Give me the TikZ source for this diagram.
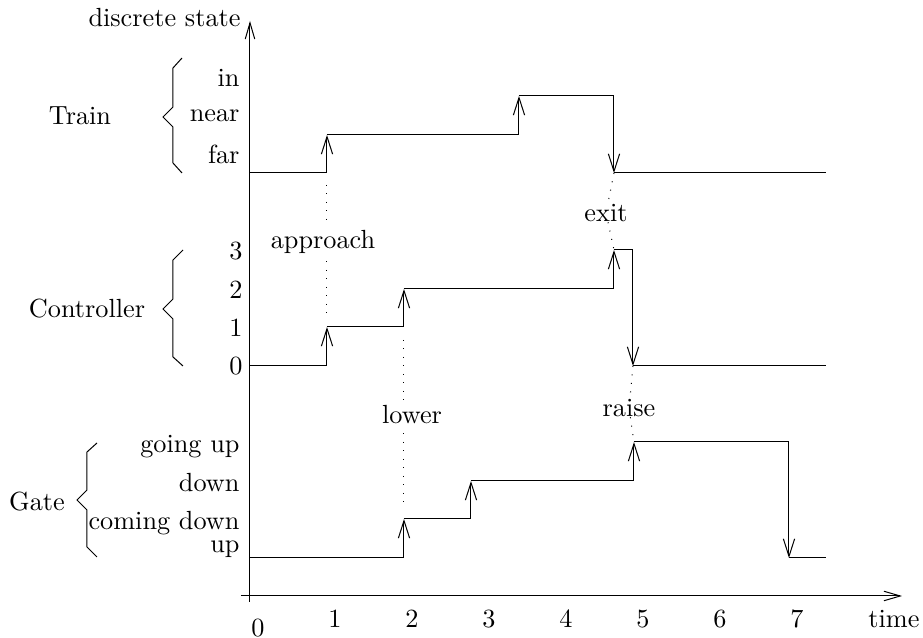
\documentclass[tikz,border=0pt]{standalone}
\usetikzlibrary{arrows.meta}
\begin{document}
\begin{tikzpicture}[x=0.4pt,y=-0.4pt,
  font=\fontsize{10.5}{12.5}\selectfont,
  trace/.style={line width=0.4pt},
  jump/.style={line width=0.4pt,-{Straight Barb[length=7pt,width=4.5pt]}},
  axis/.style={line width=0.4pt,-{Straight Barb[length=6.5pt,width=3.8pt]}},
  evt/.style={dash pattern=on 0.4pt off 3pt, line width=0.4pt},
  lbl/.style={fill=white, inner sep=2pt},
  txt/.style={inner sep=0pt},
  brace/.style={line width=0.4pt}]
\useasboundingbox (0,0) rectangle (923,638);

% axes
\coordinate (yb) at (250,602);
\coordinate (yt) at (250,21);
\coordinate (xl) at (241,596);
\coordinate (xr) at (902,596);
\draw[axis] (yb) -- (yt);
\draw[axis] (xl) -- (xr);
\node[txt,anchor=east] (ds) at (241,18) {discrete state};
\node[txt] (time) at (894,619) {time};
\node[txt] (n0) at (258,628) {0};
\node[txt] (n1) at (335,619) {1};
\node[txt] (n2) at (412,619) {2};
\node[txt] (n3) at (489,619) {3};
\node[txt] (n4) at (566,619) {4};
\node[txt] (n5) at (643,619) {5};
\node[txt] (n6) at (720,619) {6};
\node[txt] (n7) at (797,619) {7};

% group labels and braces
\node[txt] (train) at (80,116) {Train};
\node[txt] (ctrl) at (87,309) {Controller};
\node[txt] (gate) at (37,502) {Gate};
\draw[brace] (182,173) -- (173,163) -- (173,127) -- (163,117) -- (173,107) -- (173,68) -- (182,58);
\draw[brace] (183,366) -- (173,357) -- (173,319) -- (163,309) -- (173,299) -- (173,260) -- (183,250);
\draw[brace] (97,557) -- (87,547) -- (87,510) -- (77,500) -- (87,490) -- (87,452) -- (97,443);

% state labels
\node[txt,anchor=east] (sin) at (240,78) {in};
\node[txt,anchor=east] (snear) at (240,116) {near};
\node[txt,anchor=east] (sfar) at (240,154) {far};
\node[txt,anchor=east] (s3) at (243,251) {3};
\node[txt,anchor=east] (s2) at (243,290) {2};
\node[txt,anchor=east] (s1) at (243,328) {1};
\node[txt,anchor=east] (s0) at (243,366) {0};
\node[txt,anchor=east] (sgu) at (240,447) {going up};
\node[txt,anchor=east] (sd) at (240,483) {down};
\node[txt,anchor=east] (scd) at (240,523) {coming down};
\node[txt,anchor=east] (su) at (240,549) {up};

% Train trace
\coordinate (t0) at (250,173);
\coordinate (t1) at (327,173);
\coordinate (t2) at (327,135);
\coordinate (t3) at (519,135);
\coordinate (t4) at (519,96);
\coordinate (t5) at (614,96);
\coordinate (t6) at (614,173);
\coordinate (t7) at (826,173);
\draw[trace] (t0) -- (t1);
\draw[jump] (t1) -- (t2);
\draw[trace] (t2) -- (t3);
\draw[jump] (t3) -- (t4);
\draw[trace] (t4) -- (t5);
\draw[jump] (t5) -- (t6);
\draw[trace] (t6) -- (t7);

% Controller trace
\coordinate (c0) at (250,366);
\coordinate (c1) at (327,366);
\coordinate (c2) at (327,327);
\coordinate (c3) at (404,327);
\coordinate (c4) at (404,289);
\coordinate (c5) at (614,289);
\coordinate (c6) at (614,250);
\coordinate (c7) at (633,250);
\coordinate (c8) at (633,366);
\coordinate (c9) at (826,366);
\draw[trace] (c0) -- (c1);
\draw[jump] (c1) -- (c2);
\draw[trace] (c2) -- (c3);
\draw[jump] (c3) -- (c4);
\draw[trace] (c4) -- (c5);
\draw[jump] (c5) -- (c6);
\draw[trace] (c6) -- (c7);
\draw[jump] (c7) -- (c8);
\draw[trace] (c8) -- (c9);

% Gate trace
\coordinate (g0) at (250,558);
\coordinate (g1) at (404,558);
\coordinate (g2) at (404,519);
\coordinate (g3) at (471,519);
\coordinate (g4) at (471,481);
\coordinate (g5) at (634,481);
\coordinate (g6) at (634,442);
\coordinate (g7) at (789,442);
\coordinate (g8) at (789,558);
\coordinate (g9) at (826,558);
\draw[trace] (g0) -- (g1);
\draw[jump] (g1) -- (g2);
\draw[trace] (g2) -- (g3);
\draw[jump] (g3) -- (g4);
\draw[trace] (g4) -- (g5);
\draw[jump] (g5) -- (g6);
\draw[trace] (g6) -- (g7);
\draw[jump] (g7) -- (g8);
\draw[trace] (g8) -- (g9);

% events
\coordinate (ap1) at (327,185);
\coordinate (ap2) at (327,315);
\draw[evt] (ap1) -- (ap2);
\node[txt,lbl] (approach) at (323,242) {approach};
\coordinate (lo1) at (404,340);
\coordinate (lo2) at (404,502);
\draw[evt] (lo1) -- (lo2);
\node[txt,lbl] (lower) at (412,415) {lower};
\node[txt] (exit) at (606,213) {exit};
\draw[evt] (t6) -- (exit) -- (c6);
\node[txt] (raise) at (629,408) {raise};
\draw[evt] (c8) -- (raise) -- (g6);
\end{tikzpicture}
\end{document}
